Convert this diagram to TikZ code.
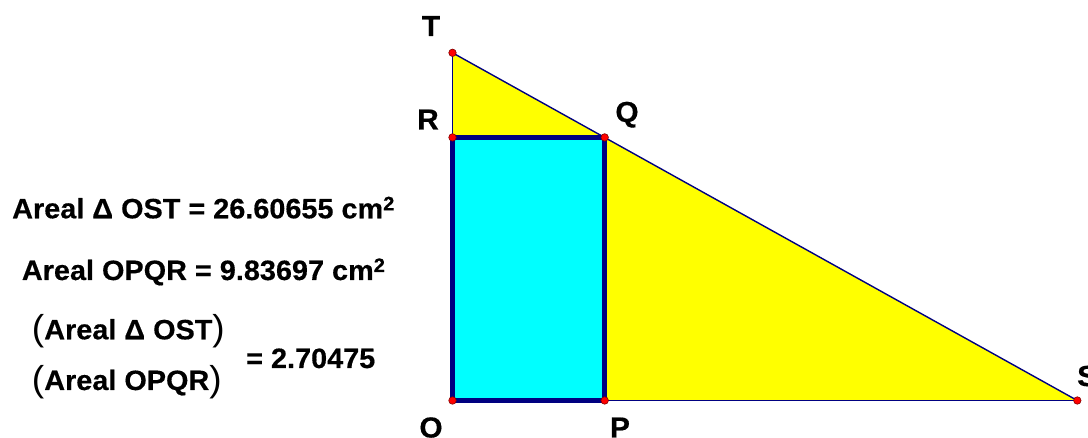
\documentclass[tikz,border=0pt]{standalone}
\usepackage{fontspec}
\setmainfont{Liberation Sans}[FakeStretch=1.03, BoldFeatures={FakeBold=0.4}]
\definecolor{navy}{RGB}{0,0,128}
\definecolor{ptred}{RGB}{255,0,0}
\definecolor{ptedge}{RGB}{128,0,0}
\definecolor{triyellow}{RGB}{255,255,0}
\definecolor{rectcyan}{RGB}{0,255,255}
\newcommand{\bigpar}[1]{{\mdseries\fontsize{36}{36}\selectfont\raisebox{-1.5pt}{#1}}}
\newcommand{\sqsup}{\raisebox{8pt}{\fontsize{19.5}{19.5}\selectfont 2}}
\tikzset{
  thinedge/.style={draw=navy, line width=1.4pt},
  thickedge/.style={draw=navy, line width=4.5pt, line cap=rect},
  pt/.style={circle, fill=ptred, draw=ptedge, line width=0.6pt, inner sep=0pt, minimum size=7.5pt},
  lbl/.style={font=\fontsize{29}{29}\selectfont\bfseries, inner sep=0pt, anchor=base},
  txt/.style={font=\fontsize{28}{28}\selectfont\bfseries, inner sep=0pt, anchor=base west},
}
\begin{document}
\begin{tikzpicture}[x=1pt,y=-1pt]
\useasboundingbox (0,0) rectangle (1088,438);
\coordinate (O) at (452.5,400.5);
\coordinate (P) at (604.7,400.5);
\coordinate (Q) at (604.7,137.4);
\coordinate (R) at (452.5,137.4);
\coordinate (T) at (452.5,52.8);
\coordinate (S) at (1077.3,400.5);
% fills
\fill[triyellow] (O) -- (S) -- (T) -- cycle;
\fill[rectcyan] (O) -- (P) -- (Q) -- (R) -- cycle;
% thin triangle edges
\draw[thinedge] (T) -- (S);
\draw[thinedge] (T) -- (R);
\draw[thinedge] (P) -- (S);
% thick rectangle
\draw[thickedge] (O) -- (P) -- (Q) -- (R) -- cycle;
% points
\foreach \p in {O,P,Q,R,T,S} \node[pt] (pt\p) at (\p) {};
% labels
\node[lbl] (lT) at (431,36) {T};
\node[lbl] (lR) at (428,129.5) {R};
\node[lbl] (lQ) at (627,122) {Q};
\node[lbl] (lO) at (431,437.5) {O};
\node[lbl] (lP) at (620,437.5) {P};
\node[lbl, anchor=base west] (lS) at (1077,386) {S};
% measurements
\node[txt] (m1) at (12,218.3) {Areal Δ OST = 26.60655 cm\sqsup};
\node[txt] (m2) at (21.7,280) {Areal OPQR = 9.83697 cm\sqsup};
\node[txt] (f1) at (31.7,339.3) {\bigpar{(}Areal Δ OST\bigpar{)}};
\node[txt] (f2) at (31.7,390) {\bigpar{(}Areal OPQR\bigpar{)}};
\node[txt] (f3) at (246,368) {= 2.70475};
\end{tikzpicture}
\end{document}
